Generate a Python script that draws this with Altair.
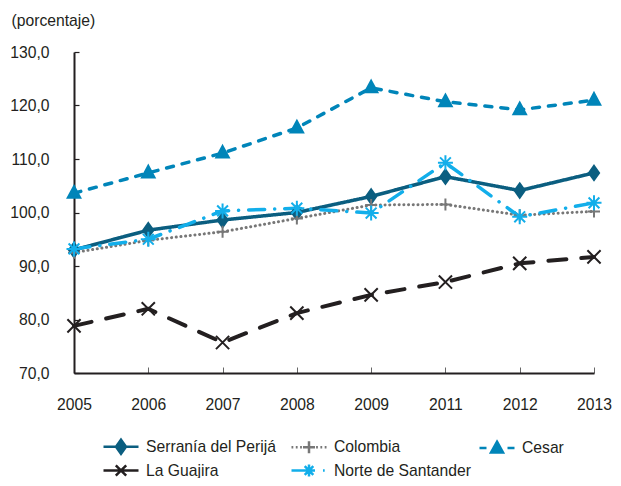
import altair as alt
import pandas as pd

# ---- data ----
years = ["2005", "2006", "2007", "2008", "2009", "2011", "2012", "2013"]
series_names = ["Serranía del Perijá", "Colombia", "Cesar", "La Guajira", "Norte de Santander"]
serrania = [93.0, 96.7, 98.6, 100.0, 103.0, 106.7, 104.1, 107.4]
colombia = [92.5, 94.8, 96.4, 98.9, 101.4, 101.5, 99.5, 100.2]
cesar = [103.6, 107.4, 111.1, 115.8, 123.3, 120.7, 119.2, 121.0]
guajira = [78.8, 82.0, 75.7, 81.2, 84.6, 87.0, 90.5, 91.7]
norte = [93.2, 95.0, 100.3, 100.8, 99.9, 109.3, 99.2, 101.8]
y_ticks = [70, 80, 90, 100, 110, 120, 130]

rows = []
for name, vals in zip(series_names, [serrania, colombia, cesar, guajira, norte]):
    for yr, v in zip(years, vals):
        rows.append({"year": yr, "serie": name, "value": v})
df = pd.DataFrame(rows)

# ---- styles ----
FONT = "Liberation Sans"
TXT = "#231f20"
colors = ["#0b5e80", "#777777", "#0085b9", "#231f20", "#12aeea"]
fills = ["#0b5e80", "transparent", "#0085b9", "transparent", "transparent"]
dashes = [[1, 0], [0.1, 4.6], [7, 9], [18, 15], [16, 10, 0.1, 10]]
widths = [3.5, 3, 3.5, 4, 3.5]

marker_paths = [
    "M0,-1.2L0.85,0L0,1.2L-0.85,0Z",
    "M0,-1L0,1M-1,0L1,0",
    "M0,-1.2L1.05,0.75L-1.05,0.75Z",
    "M-1.1,-1.1L1.1,1.1M-1.1,1.1L1.1,-1.1",
    "M0,-1.25L0,1.25M-1.25,0L1.25,0M-0.9,-0.9L0.9,0.9M-0.9,0.9L0.9,-0.9",
]
legend_paths = [
    "M-1.75,0L1.75,0M0,-0.7L0.5,0L0,0.7L-0.5,0Z",
    "M-1.75,0L-1.57,0M-1.32,0L-1.14,0M-0.89,0L-0.71,0M0.71,0L0.89,0M1.14,0L1.32,0M1.57,0L1.75,0"
    "M0,-0.6L0,0.6M-0.6,0L0.6,0",
    "M-1.75,0L-1.05,0M1.05,0L1.75,0M0,-0.63L0.6,0.45L-0.6,0.45Z",
    "M-1.75,0L1.75,0M-0.52,-0.52L0.52,0.52M-0.52,0.52L0.52,-0.52",
    "M-1.75,0L0,0M1.4,0L1.57,0M0,-0.6L0,0.6M-0.6,0L0.6,0M-0.43,-0.43L0.43,0.43M-0.43,0.43L0.43,-0.43",
]

x = alt.X(
    "year:O",
    sort=years,
    scale=alt.Scale(type="point", padding=0),
    axis=alt.Axis(
        title=None, labelAngle=0, labelFont=FONT, labelFontSize=15.7, labelColor=TXT,
        labelPadding=30, tickSize={"expr": "-6"}, tickColor="#666666", tickWidth=1,
        domainColor=TXT, domainWidth=2, grid=False,
    ),
)
y = alt.Y(
    "value:Q",
    scale=alt.Scale(domain=[70, 130], nice=False, zero=False),
    axis=alt.Axis(
        values=y_ticks, grid=False,
        labelExpr="replace(format(datum.value, '.1f'), '.', ',')",
        labelFont=FONT, labelFontSize=15.7, labelColor=TXT, labelPadding=30,
        tickSize={"expr": "-5"}, tickColor=TXT, tickWidth=1.2,
        domainColor=TXT, domainWidth=2,
        title="(porcentaje)", titleAngle=0, titleAlign="left", titleBaseline="middle",
        titleX=-63, titleY=-32, titleFont=FONT, titleFontSize=15.7,
        titleFontWeight="normal", titleColor=TXT,
    ),
)

base = alt.Chart(df)

lines = base.mark_line(strokeCap="round", strokeJoin="round").encode(
    x=x, y=y,
    color=alt.Color("serie:N", scale=alt.Scale(domain=series_names, range=colors), legend=None),
    strokeDash=alt.StrokeDash("serie:N", scale=alt.Scale(domain=series_names, range=dashes), legend=None),
    strokeWidth=alt.StrokeWidth("serie:N", scale=alt.Scale(type="ordinal", domain=series_names, range=widths), legend=None),
)

points = base.mark_point(filled=True, size=144, strokeWidth=2, opacity=1).encode(
    x=x, y=y,
    fill=alt.Fill("serie:N", scale=alt.Scale(domain=series_names, range=fills), legend=None),
    stroke=alt.Stroke("serie:N", scale=alt.Scale(domain=series_names, range=colors), legend=None),
    shape=alt.Shape("serie:N", scale=alt.Scale(domain=series_names, range=marker_paths), legend=None),
)

leg = alt.Legend(
    title=None, orient="none", legendX=28, legendY=383, columns=3, direction="horizontal",
    gridAlign="all", columnPadding=3, rowPadding=0, symbolSize=400, symbolStrokeWidth=2.5,
    symbolOpacity=1, symbolOffset=7.5, labelOffset=13.5, padding=0,
    labelFont=FONT, labelFontSize=15.7, labelColor=TXT,
)

legend_layer = base.transform_filter("false").mark_point(filled=True, size=144, strokeWidth=2.5).encode(
    x=x, y=y,
    fill=alt.Fill("serie:N", scale=alt.Scale(domain=series_names, range=fills), legend=leg),
    stroke=alt.Stroke("serie:N", scale=alt.Scale(domain=series_names, range=colors), legend=leg),
    shape=alt.Shape("serie:N", scale=alt.Scale(domain=series_names, range=legend_paths), legend=leg),
)

chart = (
    alt.layer(lines, points, legend_layer)
    .resolve_scale(shape="independent")
    .resolve_legend(fill="independent", stroke="independent", shape="independent")
    .properties(
        width=520, height=321,
        autosize=alt.AutoSizeParams(type="none"),
        padding={"left": 66, "top": 44, "right": 19, "bottom": 105},
        background="white",
    )
    .configure_view(stroke=None)
)

chart.save("out.html", embed_options={"renderer": "svg", "actions": False})
